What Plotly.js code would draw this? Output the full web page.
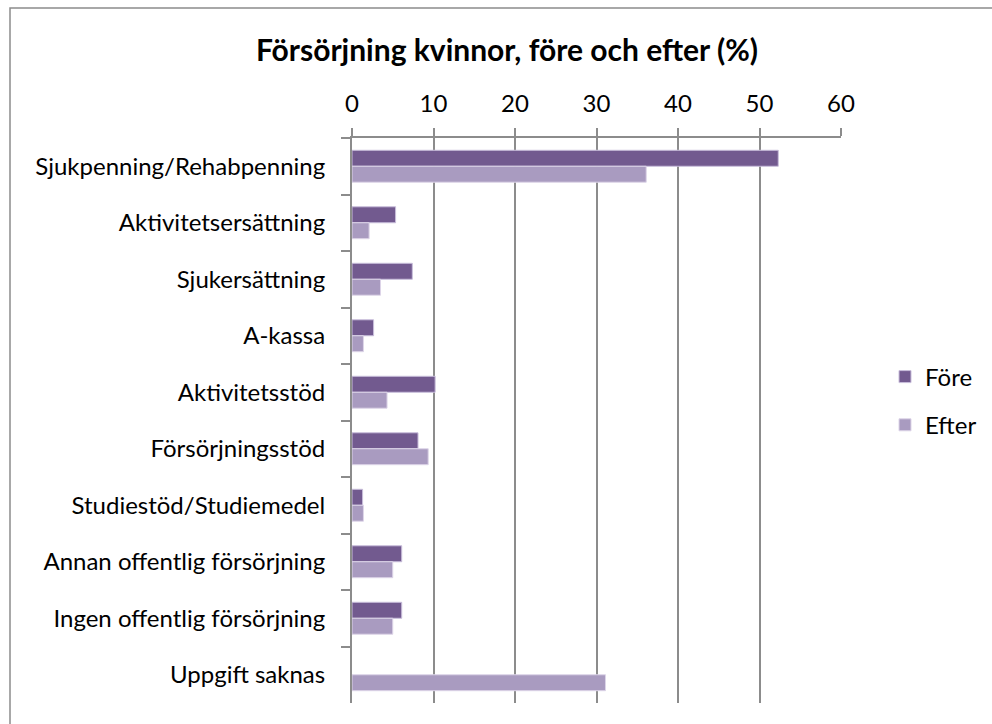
<!DOCTYPE html>
<html>
<head>
<meta charset="utf-8">
<script src="https://cdn.plot.ly/plotly-3.0.1.min.js"></script>
<style>
html,body{margin:0;padding:0;background:#fff;}
#chart{width:992px;height:724px;}
</style>
</head>
<body>
<div id="chart"></div>
<script>
const categories = [
  "Sjukpenning/Rehabpenning",
  "Aktivitetsersättning",
  "Sjukersättning",
  "A-kassa",
  "Aktivitetsstöd",
  "Försörjningsstöd",
  "Studiestöd/Studiemedel",
  "Annan offentlig försörjning",
  "Ingen offentlig försörjning",
  "Uppgift saknas"
];
const fore = [52.3, 5.35, 7.4, 2.65, 10.2, 8.1, 1.3, 6.1, 6.1, 0];
const efter = [36.1, 2.1, 3.5, 1.4, 4.3, 9.35, 1.4, 5.0, 5.0, 31.1];
const xTicks = [0, 10, 20, 30, 40, 50, 60];

const FONT = "Lato, 'Open Sans', sans-serif";

const traces = [
  {
    type: "bar", orientation: "h", name: "Före",
    y: categories, x: fore,
    marker: {color: "#725a8f", line: {color: "#c9bedb", width: fore.map(v => v ? 1 : 0)}},
    legendgroup: "a"
  },
  {
    type: "bar", orientation: "h", name: "Efter",
    y: categories, x: efter,
    marker: {color: "#a99bc0", line: {color: "#ddd5e8", width: efter.map(v => v ? 1 : 0)}},
    legendgroup: "b"
  }
];

const L = 352, R = 841, T = 138, B = 703;
const pw = R - L, ph = B - T;
const px = v => (v - L) / pw;
const py = v => (B - v) / ph;

const layout = {
  width: 992, height: 724,
  margin: {l: L, r: 992 - R, t: T, b: 724 - B, pad: 0, autoexpand: false},
  paper_bgcolor: "#ffffff",
  plot_bgcolor: "#ffffff",
  font: {family: FONT, size: 24, color: "#000000"},
  title: {
    text: "<b>Försörjning kvinnor, före och efter (%)</b>",
    font: {family: FONT, size: 30, color: "#000000"},
    x: 507 / 992, xref: "container", xanchor: "center",
    y: 1 - 50 / 724, yref: "container", yanchor: "middle"
  },
  barmode: "group",
  bargap: 0.435,
  bargroupgap: 0,
  xaxis: {
    side: "top",
    range: [0, 60],
    tickvals: xTicks,
    ticktext: xTicks.map(String),
    showgrid: true, gridcolor: "#8c8c8c", gridwidth: 2,
    showline: true, linecolor: "#8c8c8c", linewidth: 2,
    ticks: "outside", ticklen: 8, tickcolor: "#8c8c8c", tickwidth: 2,
    ticklabelstandoff: 6,
    tickfont: {family: FONT, size: 24, color: "#000"},
    zeroline: false, fixedrange: true
  },
  yaxis: {
    type: "category",
    autorange: "reversed",
    showgrid: false,
    showline: true, linecolor: "#8c8c8c", linewidth: 2,
    ticks: "outside", ticklen: 9, tickcolor: "#8c8c8c", tickwidth: 2,
    tickson: "boundaries",
    ticklabelstandoff: 20,
    tickfont: {family: FONT, size: 24, color: "#000"},
    zeroline: false, fixedrange: true
  },
  legend: {
    x: px(885), xanchor: "left",
    y: py(401), yanchor: "middle",
    traceorder: "grouped",
    tracegroupgap: 14,
    font: {family: FONT, size: 24, color: "#000"},
    bgcolor: "rgba(0,0,0,0)",
    itemwidth: 30
  },
  shapes: [{
    type: "rect", xref: "paper", yref: "paper",
    x0: px(10), x1: px(1000), y0: py(730), y1: py(8),
    line: {color: "#8c8c8c", width: 1.5}, fillcolor: "rgba(0,0,0,0)",
    layer: "below"
  }],
  showlegend: true
};

Plotly.newPlot("chart", traces, layout, {displayModeBar: false, staticPlot: true});
</script>
</body>
</html>
